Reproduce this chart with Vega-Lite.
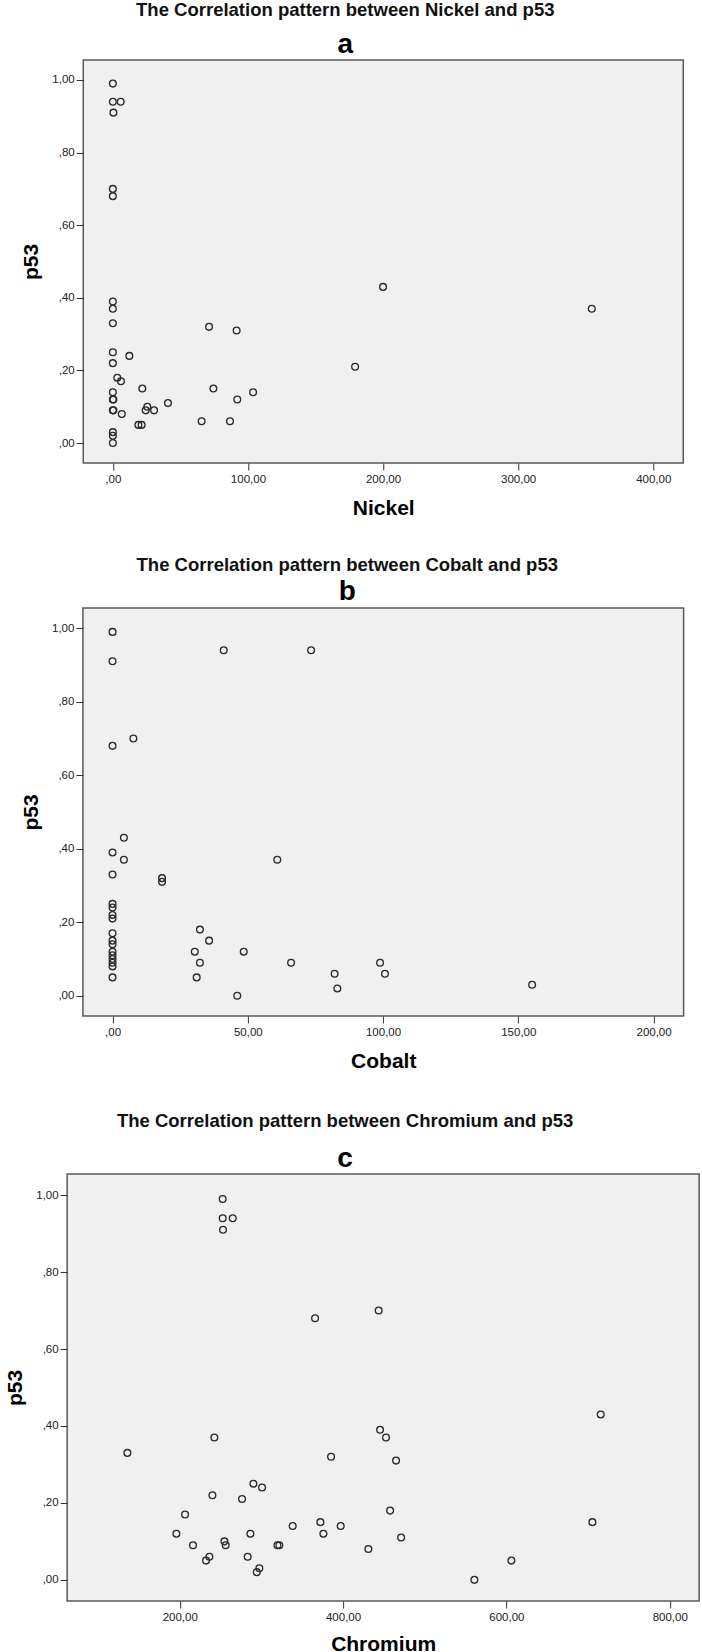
{
  "$schema": "https://vega.github.io/schema/vega-lite/v6.json",
  "background": "white",
  "padding": {"left": 3, "top": 0, "right": 0, "bottom": 0},
  "datasets": {
    "nickel": [
      {"Nickel": 0, "p53": 0.99}, {"Nickel": 0, "p53": 0.94}, {"Nickel": 5.8, "p53": 0.94}, {"Nickel": 0.4, "p53": 0.91},
      {"Nickel": 0, "p53": 0.70}, {"Nickel": 0, "p53": 0.68}, {"Nickel": 0, "p53": 0.39}, {"Nickel": 0, "p53": 0.37},
      {"Nickel": 0, "p53": 0.33}, {"Nickel": 0, "p53": 0.25}, {"Nickel": 0, "p53": 0.22}, {"Nickel": 3.3, "p53": 0.18},
      {"Nickel": 6.0, "p53": 0.17}, {"Nickel": 0, "p53": 0.14}, {"Nickel": 0, "p53": 0.12}, {"Nickel": 0.4, "p53": 0.12},
      {"Nickel": 0, "p53": 0.09}, {"Nickel": 0.4, "p53": 0.09}, {"Nickel": 6.6, "p53": 0.08}, {"Nickel": 0, "p53": 0.03},
      {"Nickel": 0, "p53": 0.02}, {"Nickel": 0, "p53": 0.00}, {"Nickel": 12.2, "p53": 0.24}, {"Nickel": 21.8, "p53": 0.15},
      {"Nickel": 25.5, "p53": 0.10}, {"Nickel": 24.3, "p53": 0.09}, {"Nickel": 30.5, "p53": 0.09}, {"Nickel": 40.8, "p53": 0.11},
      {"Nickel": 18.9, "p53": 0.05}, {"Nickel": 21.3, "p53": 0.05}, {"Nickel": 65.7, "p53": 0.06}, {"Nickel": 71.2, "p53": 0.32},
      {"Nickel": 91.6, "p53": 0.31}, {"Nickel": 74.4, "p53": 0.15}, {"Nickel": 92.1, "p53": 0.12}, {"Nickel": 103.8, "p53": 0.14},
      {"Nickel": 86.7, "p53": 0.06}, {"Nickel": 179.3, "p53": 0.21}, {"Nickel": 200, "p53": 0.43}, {"Nickel": 354.5, "p53": 0.37}
    ],
    "cobalt": [
      {"Cobalt": 0, "p53": 0.99}, {"Cobalt": 0, "p53": 0.91}, {"Cobalt": 0, "p53": 0.68}, {"Cobalt": 0, "p53": 0.39},
      {"Cobalt": 0, "p53": 0.33}, {"Cobalt": 0, "p53": 0.25}, {"Cobalt": 0, "p53": 0.24}, {"Cobalt": 0, "p53": 0.22},
      {"Cobalt": 0, "p53": 0.21}, {"Cobalt": 0, "p53": 0.17}, {"Cobalt": 0, "p53": 0.15}, {"Cobalt": 0, "p53": 0.14},
      {"Cobalt": 0, "p53": 0.12}, {"Cobalt": 0, "p53": 0.11}, {"Cobalt": 0, "p53": 0.10}, {"Cobalt": 0, "p53": 0.09},
      {"Cobalt": 0, "p53": 0.08}, {"Cobalt": 0, "p53": 0.05}, {"Cobalt": 4.2, "p53": 0.43}, {"Cobalt": 4.2, "p53": 0.37},
      {"Cobalt": 7.7, "p53": 0.70}, {"Cobalt": 41.1, "p53": 0.94}, {"Cobalt": 73.4, "p53": 0.94}, {"Cobalt": 18.3, "p53": 0.32},
      {"Cobalt": 18.3, "p53": 0.31}, {"Cobalt": 60.9, "p53": 0.37}, {"Cobalt": 32.3, "p53": 0.18}, {"Cobalt": 35.7, "p53": 0.15},
      {"Cobalt": 30.4, "p53": 0.12}, {"Cobalt": 32.3, "p53": 0.09}, {"Cobalt": 31.1, "p53": 0.05}, {"Cobalt": 48.5, "p53": 0.12},
      {"Cobalt": 46.1, "p53": 0.00}, {"Cobalt": 66.0, "p53": 0.09}, {"Cobalt": 82.1, "p53": 0.06}, {"Cobalt": 83.1, "p53": 0.02},
      {"Cobalt": 98.9, "p53": 0.09}, {"Cobalt": 100.7, "p53": 0.06}, {"Cobalt": 155.1, "p53": 0.03}
    ],
    "chromium": [
      {"Chromium": 252.6, "p53": 0.99}, {"Chromium": 252.6, "p53": 0.94}, {"Chromium": 264.9, "p53": 0.94}, {"Chromium": 253, "p53": 0.91},
      {"Chromium": 365.7, "p53": 0.68}, {"Chromium": 135.9, "p53": 0.33}, {"Chromium": 242.4, "p53": 0.37}, {"Chromium": 385.3, "p53": 0.32},
      {"Chromium": 240, "p53": 0.22}, {"Chromium": 206.5, "p53": 0.17}, {"Chromium": 195.9, "p53": 0.12}, {"Chromium": 216.3, "p53": 0.09},
      {"Chromium": 232.2, "p53": 0.05}, {"Chromium": 236.3, "p53": 0.06}, {"Chromium": 254.7, "p53": 0.10}, {"Chromium": 256.3, "p53": 0.09},
      {"Chromium": 276.3, "p53": 0.21}, {"Chromium": 290.2, "p53": 0.25}, {"Chromium": 300.8, "p53": 0.24}, {"Chromium": 286.5, "p53": 0.12},
      {"Chromium": 283.2, "p53": 0.06}, {"Chromium": 297.5, "p53": 0.03}, {"Chromium": 294.3, "p53": 0.02}, {"Chromium": 319.6, "p53": 0.09},
      {"Chromium": 322, "p53": 0.09}, {"Chromium": 338.3, "p53": 0.14}, {"Chromium": 372.2, "p53": 0.15}, {"Chromium": 375.9, "p53": 0.12},
      {"Chromium": 397.1, "p53": 0.14}, {"Chromium": 443.6, "p53": 0.70}, {"Chromium": 445.3, "p53": 0.39}, {"Chromium": 452.6, "p53": 0.37},
      {"Chromium": 464.9, "p53": 0.31}, {"Chromium": 457.6, "p53": 0.18}, {"Chromium": 471.1, "p53": 0.11}, {"Chromium": 431, "p53": 0.08},
      {"Chromium": 606.1, "p53": 0.05}, {"Chromium": 560.8, "p53": 0.00}, {"Chromium": 715.5, "p53": 0.43}, {"Chromium": 705.3, "p53": 0.15}
    ]
  },
  "config": {
    "font": "Liberation Sans",
    "view": {"fill": "#f0f0f0", "stroke": "#5a5a5a", "strokeWidth": 1.5},
    "axis": {
      "domain": false, "grid": false, "ticks": true, "tickSize": 7, "tickColor": "#333", "tickWidth": 1,
      "labelFont": "Liberation Sans", "labelFontSize": 11.5, "labelColor": "#222", "labelFlush": false, "labelOverlap": false,
      "titleFont": "Liberation Sans", "titleFontSize": 21, "titleFontWeight": "bold", "titleColor": "#000"
    },
    "axisX": {"labelPadding": 3, "titlePadding": 13},
    "axisY": {"labelPadding": 2, "titlePadding": 10},
    "title": {
      "font": "Liberation Sans", "fontSize": 18.5, "fontWeight": "bold", "color": "#111",
      "subtitleFont": "Liberation Sans", "subtitleFontSize": 28, "subtitleFontWeight": "bold", "subtitleColor": "#000",
      "anchor": "middle"
    }
  },
  "align": "each",
  "center": true,
  "spacing": 38,
  "vconcat": [
    {
      "align": "each",
      "center": true,
      "spacing": 34,
      "vconcat": [
        {
          "title": {"text": "The Correlation pattern between Nickel and p53", "subtitle": "a", "dx": -38, "offset": 1, "subtitlePadding": 11.2},
          "width": 600,
          "height": 403,
          "data": {"name": "nickel"},
          "mark": {"type": "point", "shape": "circle", "filled": false, "color": "#2a2a2a", "strokeWidth": 1.3, "size": 46, "opacity": 1},
          "encoding": {
            "x": {"field": "Nickel", "type": "quantitative", "scale": {"domain": [-21.9, 422.2], "nice": false, "zero": false},
                  "axis": {"values": [0, 100, 200, 300, 400], "title": "Nickel", "labelExpr": "replace(abs(datum.value) < 1 ? slice(format(datum.value, '.2f'), 1) : format(datum.value, '.2f'), '.', ',')"}},
            "y": {"field": "p53", "type": "quantitative", "scale": {"domain": [-0.055, 1.055], "nice": false, "zero": false},
                  "axis": {"values": [0, 0.2, 0.4, 0.6, 0.8, 1], "title": "p53", "labelExpr": "replace(abs(datum.value) < 1 ? slice(format(datum.value, '.2f'), 1) : format(datum.value, '.2f'), '.', ',')"}}
          }
        },
        {
          "title": {"text": "The Correlation pattern between Cobalt and p53", "subtitle": "b", "dx": -36, "offset": 2, "subtitlePadding": 3.9},
          "width": 600.7,
          "height": 408,
          "data": {"name": "cobalt"},
          "mark": {"type": "point", "shape": "circle", "filled": false, "color": "#2a2a2a", "strokeWidth": 1.3, "size": 46, "opacity": 1},
          "encoding": {
            "x": {"field": "Cobalt", "type": "quantitative", "scale": {"domain": [-10.95, 211.1], "nice": false, "zero": false},
                  "axis": {"values": [0, 50, 100, 150, 200], "title": "Cobalt", "labelExpr": "replace(abs(datum.value) < 1 ? slice(format(datum.value, '.2f'), 1) : format(datum.value, '.2f'), '.', ',')"}},
            "y": {"field": "p53", "type": "quantitative", "scale": {"domain": [-0.055, 1.055], "nice": false, "zero": false},
                  "axis": {"values": [0, 0.2, 0.4, 0.6, 0.8, 1], "title": "p53", "labelExpr": "replace(abs(datum.value) < 1 ? slice(format(datum.value, '.2f'), 1) : format(datum.value, '.2f'), '.', ',')"}}
          }
        }
      ]
    },
    {
      "title": {"text": "The Correlation pattern between Chromium and p53", "subtitle": "c", "dx": -38, "offset": 1.25, "subtitlePadding": 13.8},
      "width": 632,
      "height": 427,
      "data": {"name": "chromium"},
      "mark": {"type": "point", "shape": "circle", "filled": false, "color": "#2a2a2a", "strokeWidth": 1.3, "size": 46, "opacity": 1},
      "encoding": {
        "x": {"field": "Chromium", "type": "quantitative", "scale": {"domain": [62.1, 836], "nice": false, "zero": false},
              "axis": {"values": [200, 400, 600, 800], "title": "Chromium", "titlePadding": 10.5, "labelExpr": "replace(abs(datum.value) < 1 ? slice(format(datum.value, '.2f'), 1) : format(datum.value, '.2f'), '.', ',')"}},
        "y": {"field": "p53", "type": "quantitative", "scale": {"domain": [-0.055, 1.055], "nice": false, "zero": false},
              "axis": {"values": [0, 0.2, 0.4, 0.6, 0.8, 1], "title": "p53", "labelExpr": "replace(abs(datum.value) < 1 ? slice(format(datum.value, '.2f'), 1) : format(datum.value, '.2f'), '.', ',')"}}
      }
    }
  ]
}
